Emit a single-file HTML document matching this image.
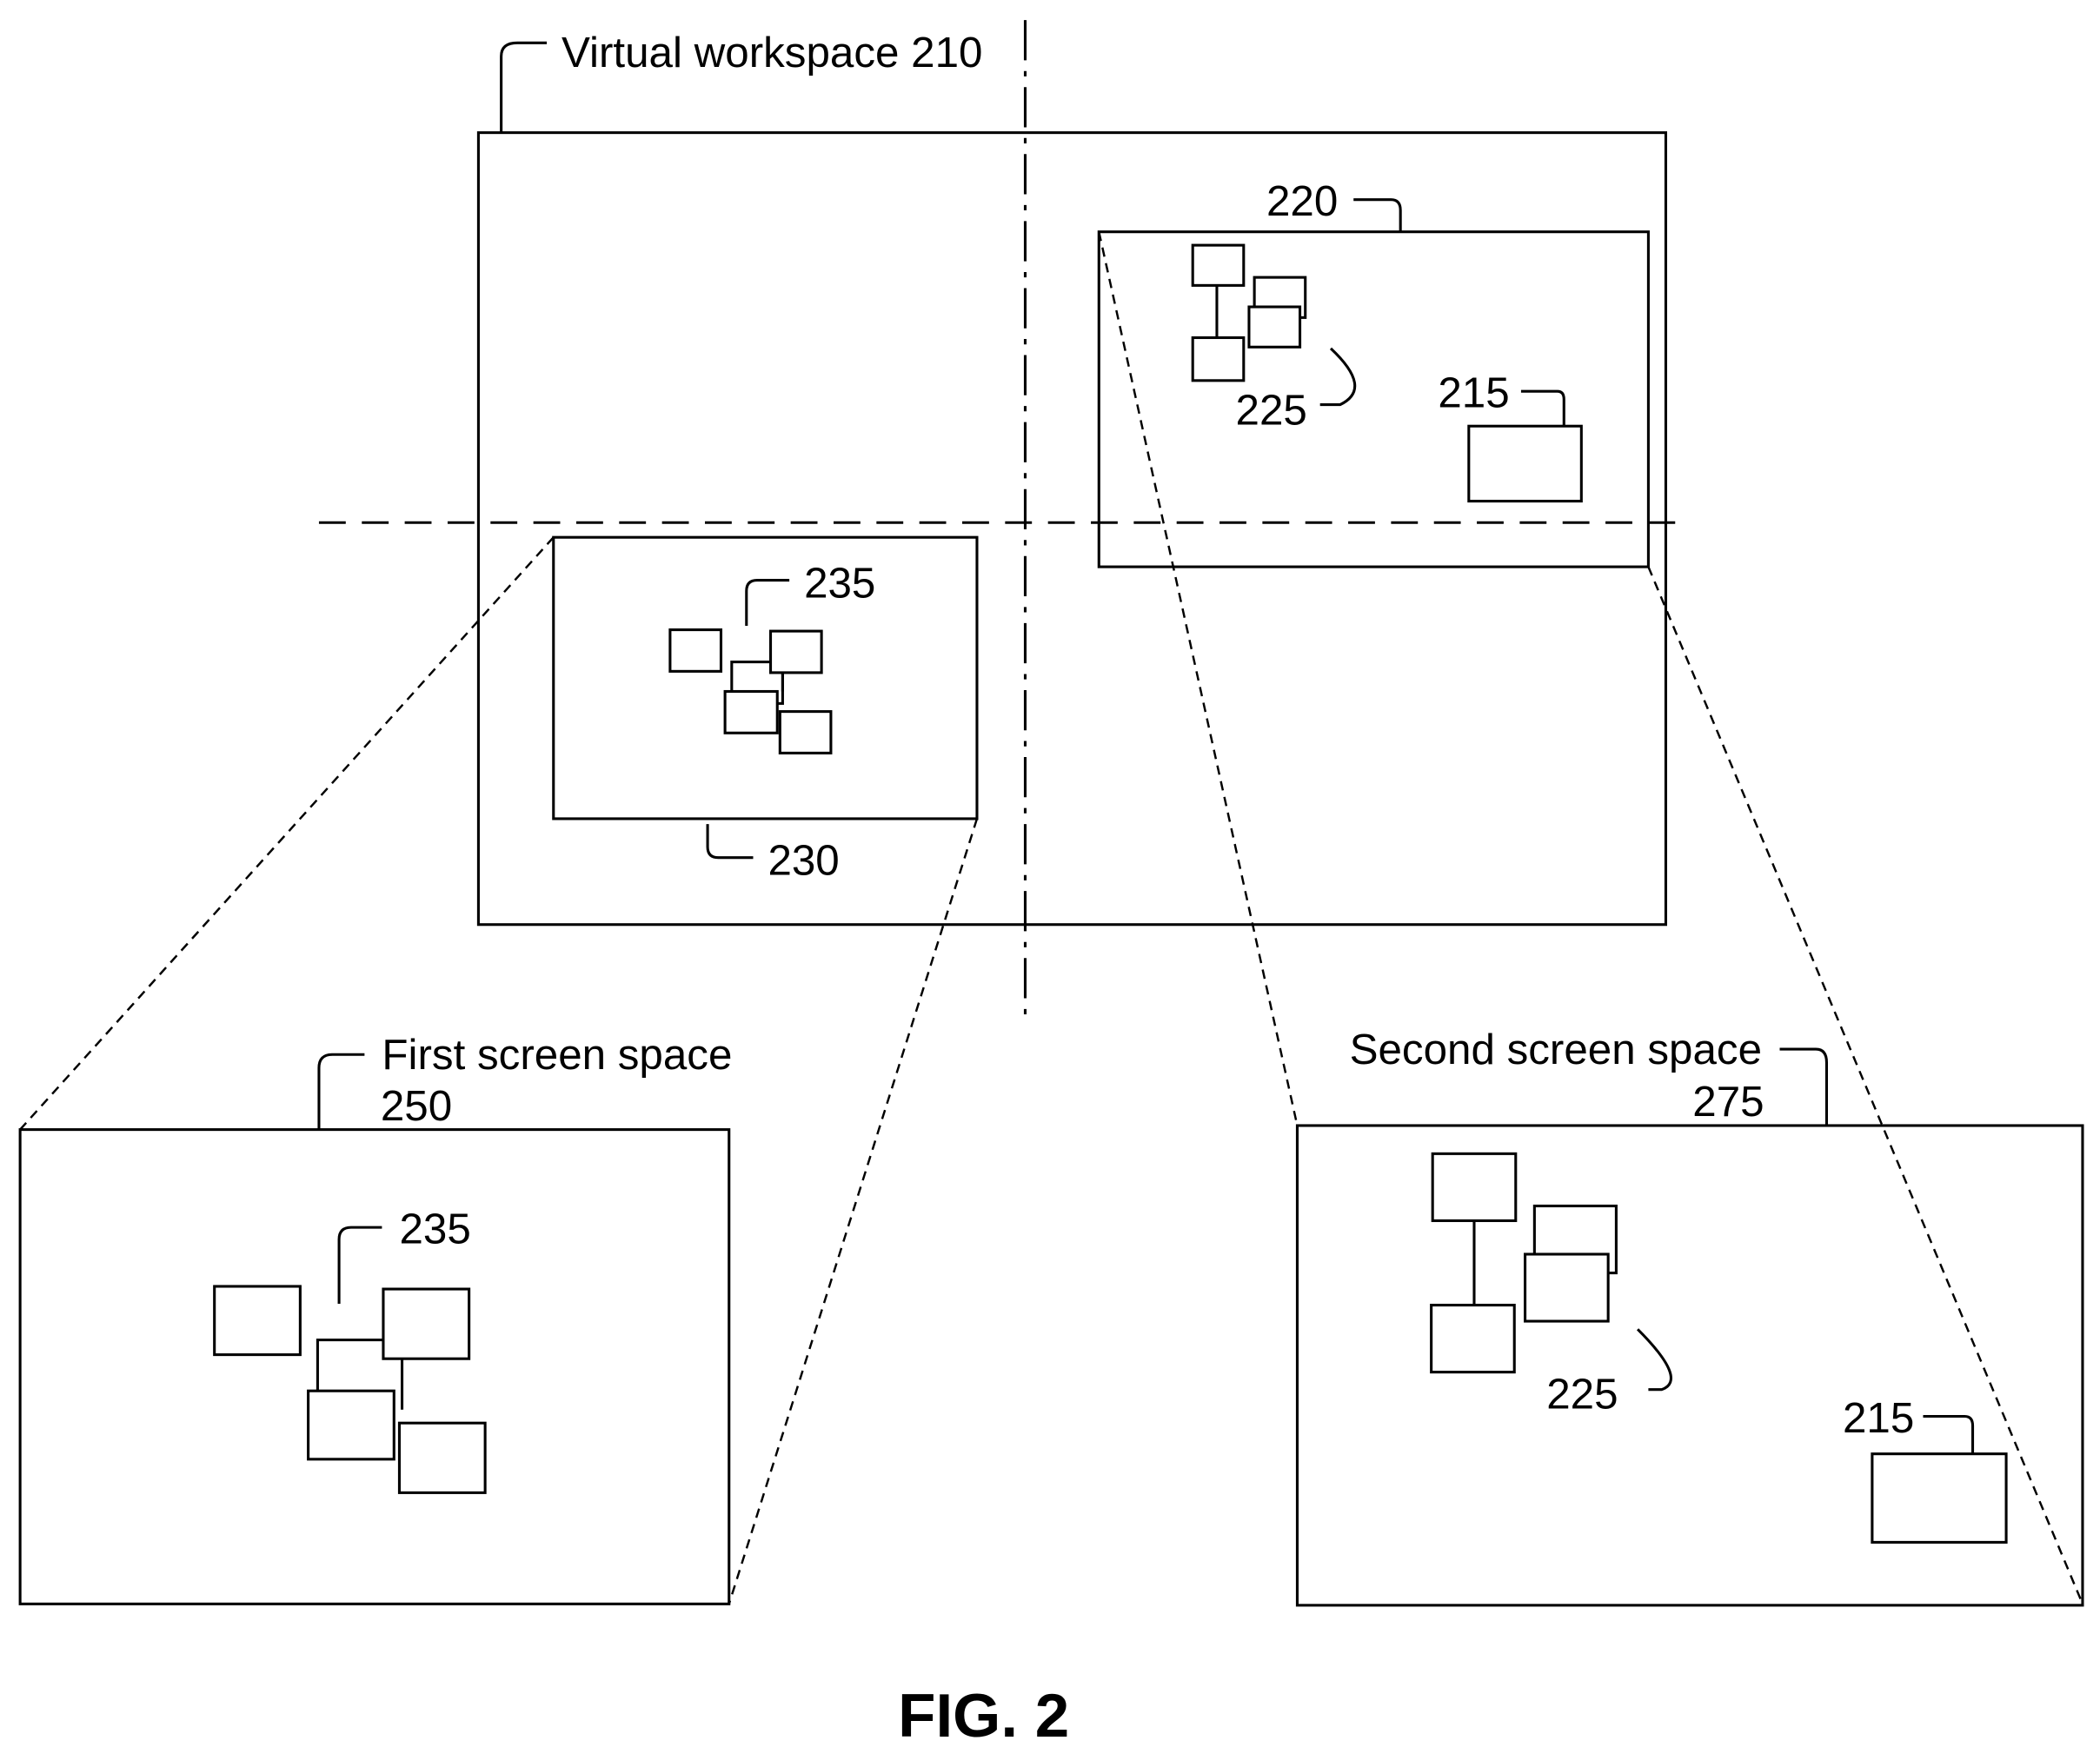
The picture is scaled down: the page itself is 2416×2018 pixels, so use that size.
<!DOCTYPE html>
<html><head><meta charset="utf-8"><style>
html,body{margin:0;padding:0;background:#fff;}
svg{display:block;}
text{font-family:"Liberation Sans",Arial,sans-serif;fill:#000;}
</style></head><body>
<svg width="2416" height="2018" viewBox="0 0 1567 1309" preserveAspectRatio="none" xmlns="http://www.w3.org/2000/svg">
<g fill="none" stroke="#000" stroke-width="2">
<rect x="357" y="99" width="886" height="591"/>
<path d="M374 99 V42 Q374 32 386 32 H408"/>
<line x1="765" y1="15" x2="765" y2="765" stroke-dasharray="30 8 4 8"/>
<line x1="238" y1="390" x2="1255" y2="390" stroke-dasharray="20 12"/>
<rect x="820" y="173" width="410" height="250"/>
<path d="M1010 149 H1038 Q1045 149 1045 157 V173"/>
<rect x="890" y="183" width="38" height="30"/>
<rect x="936" y="207" width="38" height="30"/>
<rect x="932" y="229" width="38" height="30" fill="#fff"/>
<rect x="890" y="252" width="38" height="32"/>
<line x1="908" y1="213" x2="908" y2="252"/>
<path d="M993 260 Q1025 290 1000 302 H985"/>
<path d="M1135 292 H1162 Q1167 292 1167 298 V318"/>
<rect x="1096" y="318" width="84" height="56"/>
<rect x="413" y="401" width="316" height="210"/>
<path d="M589 433 H565 Q557 433 557 441 V467"/>
<rect x="500" y="470" width="38" height="31"/>
<rect x="546" y="494" width="38" height="31"/>
<rect x="575" y="471" width="38" height="31" fill="#fff"/>
<line x1="584" y1="502" x2="584" y2="516"/>
<rect x="541" y="516" width="39" height="31" fill="#fff"/>
<rect x="582" y="531" width="38" height="31" fill="#fff"/>
<path d="M528 615 V632 Q528 640 536 640 H562"/>
<g stroke-width="1.6" stroke-dasharray="7 5">
<line x1="413" y1="401" x2="15" y2="843"/>
<line x1="729" y1="611" x2="544" y2="1197"/>
<line x1="820" y1="173" x2="968" y2="840"/>
<line x1="1230" y1="423" x2="1554" y2="1197"/>
</g>
<rect x="15" y="843" width="529" height="354"/>
<path d="M238 843 V797 Q238 787 248 787 H272"/>
<path d="M253 973 V925 Q253 916 262 916 H285"/>
<rect x="160" y="960" width="64" height="51"/>
<path d="M237 1038 V1000 H286"/>
<rect x="286" y="962" width="64" height="52" fill="#fff"/>
<line x1="300" y1="1014" x2="300" y2="1052"/>
<rect x="230" y="1038" width="64" height="51" fill="#fff"/>
<rect x="298" y="1062" width="64" height="52" fill="#fff"/>
<rect x="968" y="840" width="586" height="358"/>
<path d="M1328 783 H1355 Q1363 783 1363 793 V840"/>
<rect x="1069" y="861" width="62" height="50"/>
<rect x="1145" y="900" width="61" height="50"/>
<rect x="1138" y="936" width="62" height="50" fill="#fff"/>
<rect x="1068" y="974" width="62" height="50"/>
<line x1="1100" y1="911" x2="1100" y2="974"/>
<path d="M1222 992 Q1260 1030 1240 1037 H1230"/>
<path d="M1435 1057 H1466 Q1472 1057 1472 1064 V1085"/>
<rect x="1397" y="1085" width="100" height="66"/>
</g>
<g font-size="32">
<text x="419" y="50">Virtual workspace 210</text>
<text x="945" y="161">220</text>
<text x="922" y="317">225</text>
<text x="1073" y="304">215</text>
<text x="600" y="446">235</text>
<text x="573" y="653">230</text>
<text x="285" y="798">First screen space</text>
<text x="284" y="836">250</text>
<text x="298" y="928">235</text>
<text x="1007" y="794">Second screen space</text>
<text x="1263" y="833">275</text>
<text x="1154" y="1051">225</text>
<text x="1375" y="1069">215</text>
</g>
<text x="734" y="1296" font-size="46" font-weight="bold" text-anchor="middle">FIG. 2</text>
</svg>
</body></html>
